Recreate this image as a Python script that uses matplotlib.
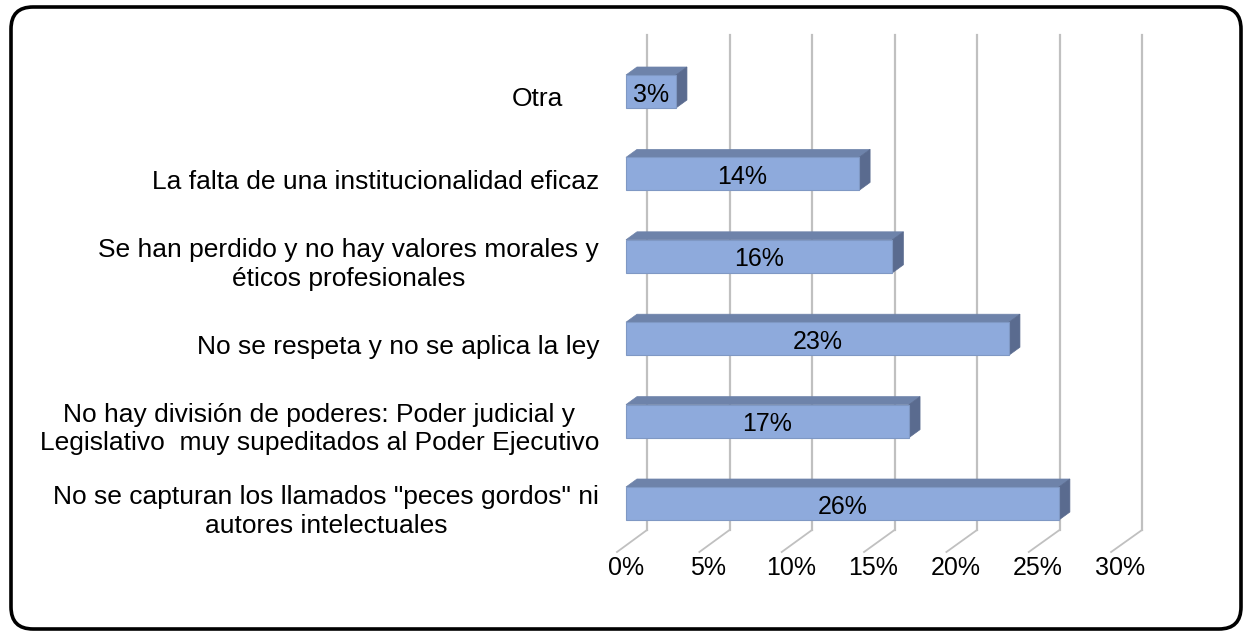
import matplotlib
matplotlib.use("Agg")
import matplotlib.pyplot as plt
from matplotlib.patches import Polygon, FancyBboxPatch
from matplotlib.transforms import IdentityTransform

plt.rcParams["font.family"] = ["Liberation Sans", "DejaVu Sans"]

# datos (de abajo hacia arriba)
categorias = [
    'No se capturan los llamados "peces gordos" ni\nautores intelectuales',
    "No hay división de poderes: Poder judicial y\nLegislativo  muy supeditados al Poder Ejecutivo",
    "No se respeta y no se aplica la ley",
    "Se han perdido y no hay valores morales y\néticos profesionales",
    "La falta de una institucionalidad eficaz",
    "Otra",
]
valores = [26, 17, 23, 16, 14, 3]
ticks = [0, 5, 10, 15, 20, 25, 30]

W, H = 1247, 634
fig = plt.figure(figsize=(W / 100, H / 100), dpi=100)

# escala: 16.65 px por 1% (plano de barras), 82.4 px por categoria
pxp, pxc = 16.65, 82.4
x0px, y0px = 626, 503.5
ax = fig.add_axes([0, 0, 1, 1])
ax.set_xlim(-x0px / pxp, (W - x0px) / pxp)
ax.set_ylim((y0px - H) / pxc, y0px / pxc)
ax.axis("off")

def dx(px):
    return px / pxp

def dy(px):
    return px / pxc

grid_col = "#c0c0c0"
# pared del fondo y piso (perspectiva: escala algo menor al fondo)
g_back, g_front = 16.5 / pxp, 16.47 / pxp
back_dx, back_top, back_bot = dx(21), dy(y0px - 35), dy(y0px - 530)
front_dx, front_y = dx(-9), dy(y0px - 552)
for t in ticks:
    xb = t * g_back + back_dx
    xf = t * g_front + front_dx
    ax.plot([xb, xb], [back_bot, back_top], color=grid_col, lw=1.6, zorder=1)
    ax.plot([xb, xf], [back_bot, front_y], color=grid_col, lw=1.3, zorder=1)
    ax.text(t * g_front, front_y - dy(16), f"{t}%", ha="center", va="center", fontsize=18)

# barras 3d
h = dy(33)
ddx, ddy = dx(11), dy(8)
for i, (cat, v) in enumerate(zip(categorias, valores)):
    yb, yt = i - h / 2, i + h / 2
    top = Polygon([(0, yt), (v, yt), (v + ddx, yt + ddy), (ddx, yt + ddy)],
                  closed=True, fc="#6e83aa", ec="#6e83aa", lw=0.5, zorder=3)
    side = Polygon([(v, yb), (v, yt), (v + ddx, yt + ddy), (v + ddx, yb + ddy)],
                   closed=True, fc="#5a6b8f", ec="#5a6b8f", lw=0.5, zorder=3)
    front = Polygon([(0, yb), (v, yb), (v, yt), (0, yt)],
                    closed=True, fc="#8eaadc", ec="#7f98c4", lw=0.8, zorder=4)
    for p in (top, side, front):
        ax.add_patch(p)
    ax.text(v / 2, i - dy(3), f"{v}%", ha="center", va="center", fontsize=18, zorder=5)
    xr = dx(563 - x0px) if cat == "Otra" else dx(599 - x0px)
    ax.text(xr, i - dy(8), cat, ha="right", va="center", multialignment="center",
            fontsize=19, linespacing=1.25)

# marco redondeado
marco = FancyBboxPatch((11, H - 629), 1230, 622, boxstyle="round,pad=0,rounding_size=22",
                       transform=IdentityTransform(), fc="none", ec="black", lw=2.6)
fig.patches.append(marco)

fig.savefig("out.png", dpi=100)
